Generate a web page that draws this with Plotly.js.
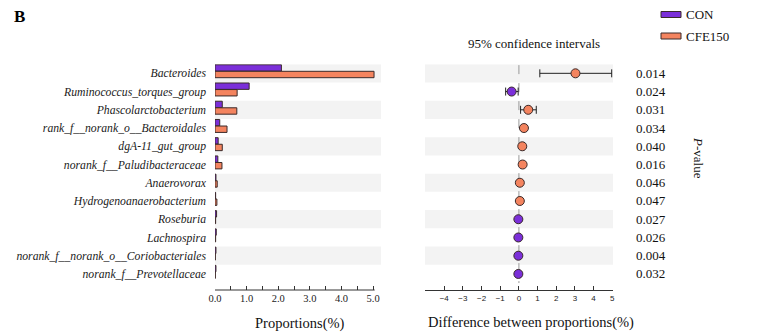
<!DOCTYPE html>
<html>
<head>
<meta charset="utf-8">
<script src="https://cdn.plot.ly/plotly-3.0.1.min.js"></script>
<style>html,body{margin:0;padding:0;background:#fff;}#chart{width:775px;height:332px;}</style>
</head>
<body>
<div id="chart"></div>
<script>
const categories = ["Bacteroides", "Ruminococcus_torques_group", "Phascolarctobacterium",
  "rank_f__norank_o__Bacteroidales", "dgA-11_gut_group", "norank_f__Paludibacteraceae",
  "Anaerovorax", "Hydrogenoanaerobacterium", "Roseburia", "Lachnospira",
  "norank_f__norank_o__Coriobacteriales", "norank_f__Prevotellaceae"];
const groupNames = ["CON", "CFE150"];
const conValues = [2.10, 1.08, 0.23, 0.15, 0.10, 0.09, 0.03, 0.02, 0.05, 0.04, 0.03, 0.03];
const cfeValues = [5.03, 0.70, 0.69, 0.38, 0.23, 0.22, 0.07, 0.06, 0.02, 0.02, 0.01, 0.01];
const diffValues = [3.03, -0.39, 0.50, 0.27, 0.18, 0.20, 0.05, 0.05, -0.03, -0.03, -0.03, -0.03];
const ciLow =  [1.12, -0.71, 0.09, 0.16, 0.10, 0.12, 0.01, 0.01, -0.06, -0.06, -0.06, -0.06];
const ciHigh = [4.97, -0.04, 0.93, 0.38, 0.27, 0.28, 0.09, 0.09, 0.00, 0.00, 0.00, 0.00];
const pValues = ["0.014", "0.024", "0.031", "0.034", "0.040", "0.016", "0.046", "0.047", "0.027", "0.026", "0.004", "0.032"];
const leftTicks = [0, 0.5, 1, 1.5, 2, 2.5, 3, 3.5, 4, 4.5, 5];
const leftTickText = ["0.0", "", "1.0", "", "2.0", "", "3.0", "", "4.0", "", "5.0"];
const rightTicks = [-4, -3, -2, -1, 0, 1, 2, 3, 4, 5];

const W = 775, H = 332;
const colors = ["#7B2FD9", "#F4845F"];
const edge = "#3a2a2a";
const serif = "Liberation Serif";
const idx = categories.map((c, i) => i);
const px = v => v / W;
const py = v => 1 - v / H;

const traces = [
  {type: "bar", orientation: "h", name: groupNames[0], x: conValues, y: idx,
   xaxis: "x", yaxis: "y", width: 0.35, offset: -0.47,
   marker: {color: colors[0], line: {color: edge, width: 1}}, showlegend: false, hoverinfo: "x"},
  {type: "bar", orientation: "h", name: groupNames[1], x: cfeValues, y: idx,
   xaxis: "x", yaxis: "y", width: 0.35, offset: -0.11,
   marker: {color: colors[1], line: {color: edge, width: 1}}, showlegend: false, hoverinfo: "x"},
  {type: "scatter", mode: "markers", x: diffValues, y: idx, xaxis: "x2", yaxis: "y2",
   marker: {size: 9, color: diffValues.map(d => d > 0 ? colors[1] : colors[0]), line: {color: edge, width: 1}},
   error_x: {type: "data", symmetric: false,
     array: ciHigh.map((h, i) => h - diffValues[i]),
     arrayminus: ciLow.map((l, i) => diffValues[i] - l),
     color: "#222", thickness: 1, width: 4},
   showlegend: false}
];

const shapes = [];
idx.forEach(i => {
  if (i % 2 === 0) {
    ["x", "x2"].forEach((xa, k) => {
      shapes.push({type: "rect", xref: xa + " domain", yref: k ? "y2" : "y",
        x0: 0, x1: 1, y0: i - 0.5, y1: i + 0.5, fillcolor: "#F3F3F3", line: {width: 0}, layer: "below"});
    });
  }
});
// left axis line
shapes.push({type: "line", xref: "x", yref: "y domain", x0: 0, x1: 5.05, y0: 0, y1: 0, line: {color: "#333", width: 1}});
// zero reference line
shapes.push({type: "line", xref: "x2", yref: "y2", x0: 0, x1: 0, y0: -0.45, y1: categories.length - 0.5,
  line: {color: "#999", width: 1, dash: "dash"}, layer: "below"});
// legend swatches
groupNames.forEach((g, k) => {
  const yc = k === 0 ? 14.5 : 36;
  shapes.push({type: "rect", xref: "paper", yref: "paper", x0: px(661), x1: px(681), y0: py(yc - 3), y1: py(yc + 3),
    fillcolor: colors[k], line: {color: edge, width: 1}});
});

const annotations = [];
pValues.forEach((p, i) => annotations.push({xref: "paper", yref: "y2", x: px(634), y: i, xanchor: "left", yanchor: "middle",
  text: p, showarrow: false, font: {family: serif, size: 13, color: "#111"}}));
groupNames.forEach((g, k) => annotations.push({xref: "paper", yref: "paper", x: px(684), y: py(k === 0 ? 14.5 : 36),
  xanchor: "left", yanchor: "middle", text: g, showarrow: false, font: {family: serif, size: 13, color: "#111"}}));
annotations.push({xref: "paper", yref: "paper", x: px(698), y: py(158), text: "<i>P</i>-value", textangle: 90,
  showarrow: false, xanchor: "center", yanchor: "middle", font: {family: serif, size: 13, color: "#111"}});
annotations.push({xref: "paper", yref: "paper", x: px(534), y: py(43), text: "95% confidence intervals",
  showarrow: false, xanchor: "center", yanchor: "middle", font: {family: serif, size: 13, color: "#111"}});
annotations.push({xref: "paper", yref: "paper", x: px(19), y: py(16), text: "<b>B</b>",
  showarrow: false, xanchor: "center", yanchor: "middle", font: {family: serif, size: 17, color: "#000"}});
annotations.push({xref: "paper", yref: "paper", x: px(300), y: py(323), text: "Proportions(%)",
  showarrow: false, xanchor: "center", yanchor: "middle", font: {family: serif, size: 14.5, color: "#111"}});
annotations.push({xref: "paper", yref: "paper", x: px(531), y: py(322), text: "Difference between proportions(%)",
  showarrow: false, xanchor: "center", yanchor: "middle", font: {family: serif, size: 14.5, color: "#111"}});

const yDomain = [py(290), py(64.2)];
const yRange = [categories.length - 0.12, -0.5];
const layout = {
  width: W, height: H, margin: {l: 0, r: 0, t: 0, b: 0},
  paper_bgcolor: "#fff", plot_bgcolor: "rgba(0,0,0,0)",
  barmode: "overlay", showlegend: false,
  xaxis: {domain: [px(215), px(381)], range: [0, 5.25], anchor: "y", tickmode: "array",
    tickvals: leftTicks, ticktext: leftTickText, ticks: "inside", ticklen: 4, tickcolor: "#333",
    showline: false, showgrid: false, zeroline: false,
    tickfont: {family: serif, size: 10.5, color: "#222"}},
  yaxis: {domain: yDomain, range: yRange, anchor: "x", tickmode: "array", tickvals: idx, ticktext: categories,
    ticks: "", showline: false, showgrid: false, zeroline: false, ticklabelstandoff: 8,
    tickfont: {family: serif, size: 11.7, color: "#1a1a1a", style: "italic"}},
  xaxis2: {domain: [px(425), px(613)], range: [-5.03, 5.04], anchor: "y2", tickmode: "array",
    tickvals: rightTicks, ticks: "inside", ticklen: 4, tickcolor: "#333",
    showline: true, linecolor: "#333", linewidth: 1, showgrid: false, zeroline: false,
    tickfont: {family: "Liberation Sans", size: 8, color: "#222"}},
  yaxis2: {domain: yDomain, range: yRange, anchor: "x2", showticklabels: false, ticks: "",
    showline: false, showgrid: false, zeroline: false},
  shapes: shapes, annotations: annotations
};
Plotly.newPlot("chart", traces, layout, {displayModeBar: false, staticPlot: true});
</script>
</body>
</html>
